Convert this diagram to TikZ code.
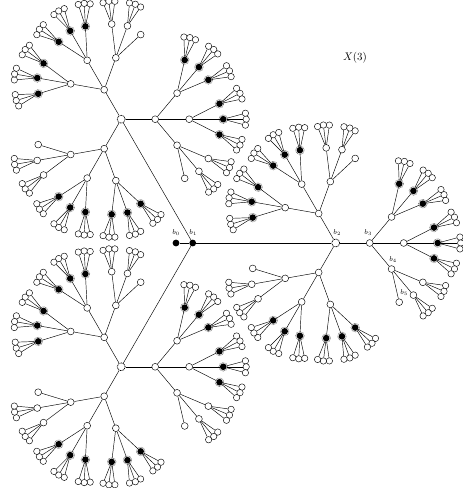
\documentclass[tikz,border=0pt]{standalone}
\usetikzlibrary{calc}
\begin{document}
\begin{tikzpicture}[x=1pt,y=1pt,
  edge/.style={line width=0.45pt},
  leaf/.style={circle,draw,fill=white,line width=0.45pt,inner sep=0pt,minimum size=6.4pt},
  wnode/.style={circle,draw,fill=white,line width=0.45pt,inner sep=0pt,minimum size=6.8pt},
  bnode/.style={circle,fill=black,inner sep=0pt,minimum size=6.6pt},
  halo/.style={draw=black!55,dash pattern=on 0.7pt off 0.7pt,line width=0.7pt},
  starnode/.style={circle,draw,fill=white,dash pattern=on 1pt off 0.7pt,line width=0.7pt,inner sep=0pt,minimum size=8pt},
  rootnode/.style={circle,fill=black,inner sep=0pt,minimum size=6.8pt},
  lbl/.style={font=\scriptsize,inner sep=0pt}]
\useasboundingbox (0,0) rectangle (463,488);

% root part
\node[rootnode] (b1) at (192.7,245) {};
\node[rootnode] (b0) at (176,245) {};
\draw[edge] (b0) -- (b1);

\foreach \s/\sx/\sy in {A/335.7/245, B/121.2/368.8, C/121.2/121.2} {
  \node[starnode] (\s) at (\sx,\sy) {};
  \draw[edge] (b1) -- (\s);
  \foreach \k/\th in {0/0,1/120,2/240} {
    \node[wnode] (\s\k) at ($(\s)+(\th:34)$) {};
    \draw[edge] (\s) -- (\s\k);
    \foreach \j/\dj in {0/50,1/0,2/-50} {
      \pgfmathsetmacro\ph{\th+\dj}
      \node[wnode] (\s\k\j) at ($(\s\k)+(\ph:34)$) {};
      \draw[edge] (\s\k) -- (\s\k\j);
      \foreach \m/\dm in {0/27,1/0,2/-27} {
        \pgfmathsetmacro\ps{\ph+\dm}
        \ifnum\j<2
          \node[bnode] (\s\k\j\m) at ($(\s\k\j)+(\ps:34)$) {};
          \draw[halo] (\s\k\j\m) circle (4.3pt);
        \else
          \node[wnode] (\s\k\j\m) at ($(\s\k\j)+(\ps:34)$) {};
        \fi
        \draw[edge] (\s\k\j) -- (\s\k\j\m);
        \ifnum\j<2 \def\hasleaves{1}\else\ifnum\m<2 \def\hasleaves{1}\else\def\hasleaves{0}\fi\fi
        \ifnum\hasleaves=1
          \foreach \n/\dn in {0/15,1/0,2/-15} {
            \pgfmathsetmacro\pl{\ps+\dn}
            \node[leaf] (\s\k\j\m\n) at ($(\s\k\j\m)+(\pl:23)$) {};
            \draw[edge] (\s\k\j\m) -- (\s\k\j\m\n);
          }
        \fi
      }
    }
  }
}

% labels
\node[lbl] (lb0) at ($(b0)+(0,10)$) {$b_0$};
\node[lbl] (lb1) at ($(b1)+(0.5,10)$) {$b_1$};
\node[lbl] (lb2) at ($(A)+(1.5,10.5)$) {$b_2$};
\node[lbl] (lb3) at ($(A0)+(-1.5,10.5)$) {$b_3$};
\node[lbl] (lb4) at ($(A02)+(1.5,9)$) {$b_4$};
\node[lbl] (lb5) at ($(A022)+(5,10)$) {$b_5$};
\node[font=\fontsize{11}{13}\selectfont] (title) at (355,430) {$X(3)$};
\end{tikzpicture}
\end{document}
